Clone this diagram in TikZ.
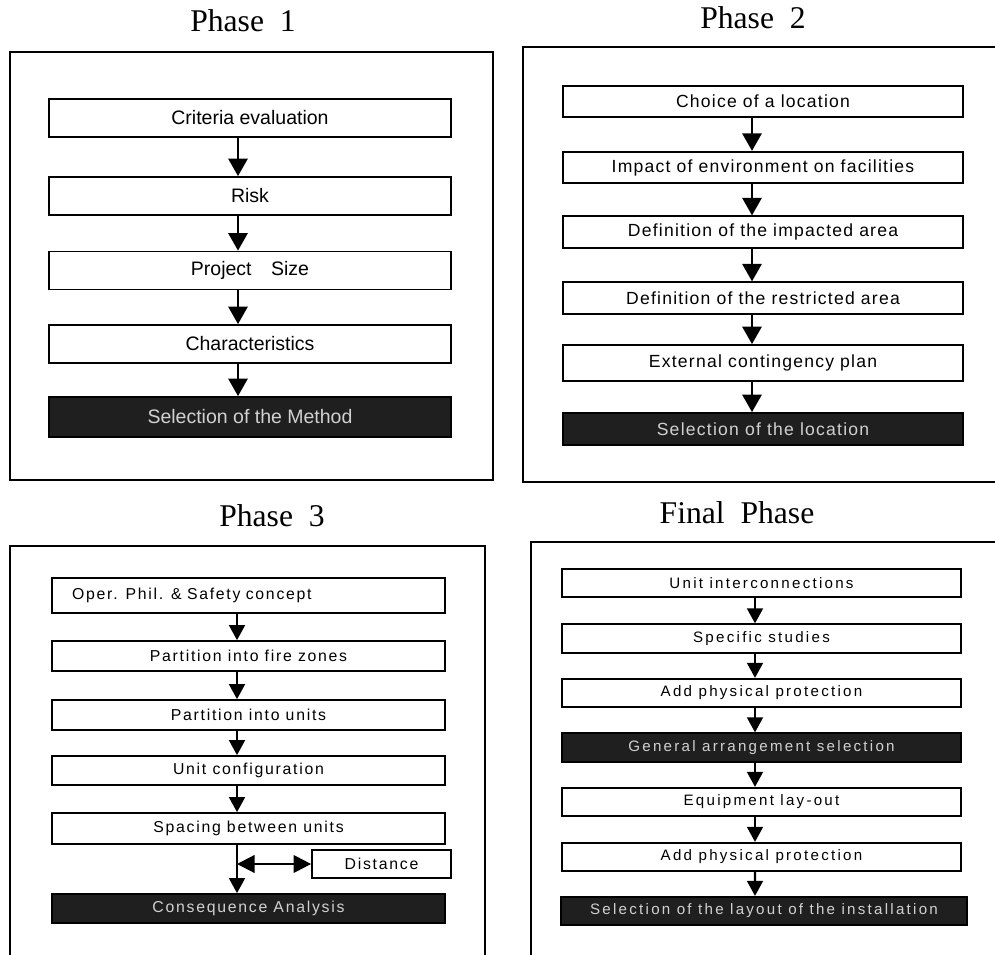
\documentclass[tikz,border=0pt]{standalone}
\usepackage{fontspec}
\setmainfont{Liberation Serif}
\newfontfamily\boxfont{Liberation Sans}
\newfontfamily\boxfontw{Liberation Sans}[LetterSpace=7]
\newfontfamily\boxfontm{Liberation Sans}[LetterSpace=11]
\newfontfamily\boxfontww{Liberation Sans}[LetterSpace=15]
\usetikzlibrary{arrows.meta}
\begin{document}
\begin{tikzpicture}[x=0.02cm,y=-0.02cm,
  box/.style={draw,line width=1pt,fill=white,inner sep=0pt},
  darkbox/.style={box,fill=black!88,text=white!82!black},
  title/.style={font=\fontsize{18}{21}\selectfont},
  panel/.style={line width=0.8pt},
  boxa/.style={box,minimum width=8.04cm,minimum height=0.76cm,font=\boxfont\fontsize{11.1}{13}\selectfont},
  boxb/.style={box,minimum width=8cm,minimum height=0.63cm,font=\boxfontw\fontsize{10}{12}\selectfont},
  boxc/.style={box,minimum width=7.86cm,minimum height=0.6cm,font=\boxfontm\fontsize{9}{11}\selectfont},
  boxd/.style={box,minimum width=7.98cm,minimum height=0.57cm,font=\boxfontww\fontsize{8.6}{10}\selectfont},
  arra/.style={line width=1.2pt,-{Triangle[length=10pt,width=11pt]}},
  arrb/.style={line width=1.2pt,-{Triangle[length=8.5pt,width=9pt]}}]
\useasboundingbox (0,0) rectangle (995,955);

% Phase 1
\node[title] at (243,21) {Phase\enspace 1};
\draw[panel] (10,52) rectangle (493,480);
\node[boxa] (crit) at (250,118) {Criteria evaluation};
\node[boxa] (risk) at (250,196) {Risk};
\node[boxa] (size) at (250,270.5) {Project\quad Size};
\node[boxa] (char) at (250,344) {Characteristics};
\node[boxa,darkbox,minimum height=0.8cm] (meth) at (250,417) {Selection of the Method};
\draw[arra] ([xshift=-0.24cm]crit.south) -- ([xshift=-0.24cm]risk.north);
\draw[arra] ([xshift=-0.24cm]risk.south) -- ([xshift=-0.24cm]size.north);
\draw[arra] ([xshift=-0.24cm]size.south) -- ([xshift=-0.24cm]char.north);
\draw[arra] ([xshift=-0.24cm]char.south) -- ([xshift=-0.24cm]meth.north);

%---------------------------------
% Phase 2
\node[title] at (753,18) {Phase\enspace 2};
\draw[panel] (523,47) rectangle (1000,482);
\node[boxb] (choice) at (763,101.5) {Choice of a location};
\node[boxb] (impact) at (763,167.5) {Impact of environment on facilities};
\node[boxb] (impar) at (763,232) {Definition of the impacted area};
\node[boxb] (restr) at (763,298) {Definition of the restricted area};
\node[boxb,minimum height=0.72cm] (cont) at (763,363) {External contingency plan};
\node[boxb,darkbox,minimum height=0.64cm] (loc) at (763,429) {Selection of the location};
\draw[arra] ([xshift=-0.22cm]choice.south) -- ([xshift=-0.22cm]impact.north);
\draw[arra] ([xshift=-0.22cm]impact.south) -- ([xshift=-0.22cm]impar.north);
\draw[arra] ([xshift=-0.22cm]impar.south) -- ([xshift=-0.22cm]restr.north);
\draw[arra] ([xshift=-0.22cm]restr.south) -- ([xshift=-0.22cm]cont.north);
\draw[arra] ([xshift=-0.22cm]cont.south) -- ([xshift=-0.22cm]loc.north);

%---------------------------------
% Phase 3
\node[title] at (272,516) {Phase\enspace 3};
\draw[panel] (10,960) -- (10,546) -- (485,546) -- (485,960);
\node[boxc,minimum height=0.7cm,text width=7.06cm,inner xsep=0.4cm,align=left] (oper) at (248.5,595.5) {Oper. Phil. \& Safety concept};
\node[boxc] (fire) at (248.5,656) {Partition into fire zones};
\node[boxc] (units) at (248.5,715) {Partition into units};
\node[boxc,minimum height=0.58cm] (conf) at (248.5,770.5) {Unit configuration};
\node[boxc,minimum height=0.62cm] (spac) at (248.5,828.5) {Spacing between units};
\node[boxc,minimum width=2.78cm,minimum height=0.56cm] (dist) at (381.5,864) {Distance};
\node[boxc,darkbox,minimum height=0.58cm] (cons) at (248.5,908.5) {Consequence Analysis};
\coordinate (spl) at (237,864);
\draw[arrb] ([xshift=-0.23cm]oper.south) -- ([xshift=-0.23cm]fire.north);
\draw[arrb] ([xshift=-0.23cm]fire.south) -- ([xshift=-0.23cm]units.north);
\draw[arrb] ([xshift=-0.23cm]units.south) -- ([xshift=-0.23cm]conf.north);
\draw[arrb] ([xshift=-0.23cm]conf.south) -- ([xshift=-0.23cm]spac.north);
\draw[arrb] ([xshift=-0.23cm]spac.south) -- ([xshift=-0.23cm]cons.north);
\draw[line width=1.2pt,{Triangle[length=10pt,width=10pt]}-{Triangle[length=10pt,width=10pt]}] (spl) -- (dist.west);

%---------------------------------
% Final phase
\node[title] at (737,513) {Final\enspace Phase};
\draw[panel] (531,960) -- (531,542) -- (1000,542);
\node[boxd] (inter) at (761.5,583) {Unit interconnections};
\node[boxd] (stud) at (761.5,638.5) {Specific studies};
\node[boxd] (prota) at (761.5,693) {Add physical protection};
\node[boxd,darkbox] (gen) at (761.5,747.5) {General arrangement selection};
\node[boxd] (equip) at (761.5,802) {Equipment lay-out};
\node[boxd] (protb) at (761.5,857) {Add physical protection};
\node[boxd,darkbox,minimum width=8.12cm] (lay) at (764,911) {Selection of the layout of the installation};
\draw[arrb] ([xshift=-0.13cm]inter.south) -- ([xshift=-0.13cm]stud.north);
\draw[arrb] ([xshift=-0.13cm]stud.south) -- ([xshift=-0.13cm]prota.north);
\draw[arrb] ([xshift=-0.13cm]prota.south) -- ([xshift=-0.13cm]gen.north);
\draw[arrb] ([xshift=-0.13cm]gen.south) -- ([xshift=-0.13cm]equip.north);
\draw[arrb] ([xshift=-0.13cm]equip.south) -- ([xshift=-0.13cm]protb.north);
\draw[arrb] ([xshift=-0.13cm]protb.south) -- ([xshift=-0.18cm]lay.north);
\end{tikzpicture}
\end{document}
